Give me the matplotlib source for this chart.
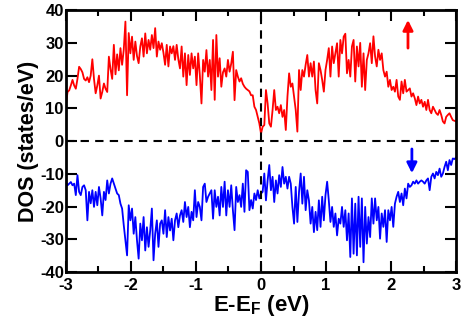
import numpy as np
import matplotlib
matplotlib.use("Agg")
import matplotlib.pyplot as plt
from matplotlib.ticker import MultipleLocator

plt.rcParams['font.family'] = ['Liberation Sans', 'DejaVu Sans']
plt.rcParams['font.weight'] = 'bold'
plt.rcParams['mathtext.fontset'] = 'custom'
plt.rcParams['mathtext.rm'] = 'Liberation Sans:bold'
plt.rcParams['mathtext.bf'] = 'Liberation Sans:bold'
plt.rcParams['mathtext.it'] = 'Liberation Sans:bold'

# spin-up DOS, E from -3 to 0
dos_up_left = [11, 15, 15.5, 17, 18.7, 17, 16, 19, 22.7, 22, 21, 19, 18.5, 19.5, 18, 20, 25, 19, 14.6,
               17, 20, 13, 15, 17.6, 16, 15, 25.8, 22, 19,
               29.4, 20.4, 26.5, 21.6, 28.4, 23.3, 27.9, 36.5, 14, 33,
               26.8, 31.9, 24.8, 30.4, 26, 23.8, 28.9, 31.4, 25.8, 32.9,
               26.8, 30.9, 27.9, 32.4, 28.4, 34.5, 25.8, 30.4, 27.9, 29.9,
               27, 23.3, 29.4, 22.8, 28.9, 26.8, 29, 24.8, 29.4, 25,
               22.2, 28.9, 19.7, 26.8, 17.1, 26.3, 20.2, 26.8, 22.2, 25.8,
               17.1, 26.8, 20.2, 11.5, 24.8, 21.2, 27.8, 19.7, 24.8, 15.6,
               30.9, 12.6, 32.4, 19.7, 25.3, 16.6, 21, 22.2, 19.7, 24.8,
               21.2, 23.7, 27.3, 12.5, 21.7, 19.7, 18.2, 19.2, 17.5, 16.6,
               16, 15.6, 15.2, 14, 14, 10.5, 9.5, 7.4, 5.4, 2.3]
# spin-up DOS, E from 0 to 3
dos_up_right = [4.4, 4.9, 15.6, 11.5, 5.4, 4.4, 9.5, 15.6, 9.5, 10.5,
                8.5, 11, 7.4, 9.5, 3.4, 13.6, 20.7, 16.6, 17.6, 13.6,
                9.5, 2.9, 21.7, 15.6, 21.7, 19.7, 23.3, 26.3, 19.7, 23.8,
                19.7, 24.3, 15.6, 11.5, 23.8, 21.7, 18.7, 15.1, 21.7, 24.8,
                28.4, 19.7, 28.9, 23.8, 26.8, 29.9, 19.7, 30.9, 26.8, 31.9,
                32.8, 20.7, 24.8, 19.7, 28.9, 30.9, 18.2, 28.9, 22.8, 30,
                16.6, 26.8, 15.6, 24.8, 26.8, 29.9, 23.8, 32, 25.8, 22.8,
                27.9, 24.8, 26.8, 21.7, 19.7, 21.2, 16.6, 18.7, 15.6, 16.6,
                15.1, 18.7, 13.6, 12.6, 18.2, 14.6, 18.7, 15.1, 15.6, 16.1,
                13.6, 14.6, 13.1, 11, 13.6, 11.5, 12.6, 10.5, 12, 9.5,
                12.6, 9.5, 8.5, 10.5, 9.5, 8.5, 8, 9.5, 8, 6,
                5.4, 7.4, 8, 8.5, 7.4, 6.4, 6.2, 6]
# spin-down DOS, E from -3 to 0
dos_dn_left = [-12.4, -13.5, -13, -12.5, -13.5, -13, -16.5, -10.4, -15.5, -16.5, -14, -13.5, -15, -24.2,
               -15.5, -19, -15, -20.1, -15.5,
               -19.6, -14, -17.5, -22.7, -15.5, -18, -12, -16, -13, -11.4,
               -13, -14.5, -16, -16.5, -19.1, -20.6, -25.7, -30.3, -34.9, -19.6,
               -24.2, -20.6, -28.3, -23.2, -30.3, -35.9, -25.2, -30.3, -23.2, -33.4,
               -26.3, -32.3, -27.3, -20.6, -36.4, -28.3, -24.2, -32.3, -25.2, -24.2,
               -28.3, -21.1, -29.3, -23.2, -27.3, -23.7, -30.3, -24.2, -22.1, -26.3,
               -22.7, -21.1, -24.7, -18.6, -23.2, -20.1, -26.3, -21.6, -24.2, -15,
               -23.2, -18.6, -20.1, -24.2, -14, -13, -18.6, -17, -16, -15,
               -23.7, -15, -20.1, -17, -22.7, -14, -20.1, -12.4, -22.7, -15,
               -20.1, -13.5, -21.1, -27.2, -14, -18.6, -16.5, -20.1, -13, -21.6,
               -8.9, -9.4, -21.1, -18, -20.6, -16, -18, -15, -17.5, -16]
# spin-down DOS, E from 0 to 3
dos_dn_right = [-15.5, -9.9, -18.1, -12, -7.3, -15, -10.9, -18.6, -12, -16,
                -10.4, -14, -7.9, -13, -10.9, -14.5, -10.9, -13, -20.1, -25.2,
                -14, -24.7, -15.5, -9.9, -19.1, -10.9, -21.1, -15, -18.1, -25.2,
                -20.1, -27.8, -21.6, -27.2, -18.1, -26.2, -17, -24.2, -16.5, -12.4,
                -18.1, -24.7, -20.1, -26.2, -22.1, -28.8, -23.7, -25.2, -20.1, -26.2,
                -21.1, -30.3, -22.1, -35.4, -17.5, -34.4, -19.1, -34.9, -17, -32.3,
                -17.5, -37, -20.1, -31.3, -23.2, -29.3, -17.5, -25.2, -17.5, -24.2,
                -20.1, -29.8, -22.1, -26.2, -21.1, -30.8, -21.1, -24.2, -20.1, -26.2,
                -19.1, -17, -15.5, -18.6, -16, -19.6, -14.5, -17.5, -13, -14,
                -13.5, -12.4, -13, -12, -13, -12.4, -12, -12.4, -13, -12,
                -11.4, -15, -10.9, -9.9, -11.4, -9.4, -10.4, -8.4, -10.9, -9.9,
                -7.9, -6.3, -8.9, -5.8, -7.3, -5.3, -5.5, -5]

e_min, e_max = -3.0, 3.0
x_ticks = [-3, -2, -1, 0, 1, 2, 3]
y_ticks = [-40, -30, -20, -10, 0, 10, 20, 30, 40]
arrow_up = (2.26, 28.4, 37.0)    # x, tail, head
arrow_dn = (2.32, -2.4, -9.8)

dos_up = np.array(dos_up_left + dos_up_right)
dos_dn = np.array(dos_dn_left + dos_dn_right)
energy = np.linspace(e_min, e_max, len(dos_up))

fig = plt.figure(figsize=(4.64, 3.27), dpi=100)
ax = fig.add_axes([0.142, 0.168, 0.841, 0.801])

ax.plot(energy, dos_up, color='#ff0000', lw=1.3)
ax.plot(energy, dos_dn, color='#0000ff', lw=1.3)
ax.axhline(0, color='black', lw=1.5, ls=(0, (4, 3)))
ax.axvline(0, color='black', lw=1.5, ls=(0, (4, 3)))

ax.annotate('', xy=(arrow_up[0], arrow_up[2]), xytext=(arrow_up[0], arrow_up[1]),
            arrowprops=dict(arrowstyle='-|>,head_length=0.6,head_width=0.3', color='#ff0000', lw=2.0,
                            shrinkA=0, shrinkB=0))
ax.annotate('', xy=(arrow_dn[0], arrow_dn[2]), xytext=(arrow_dn[0], arrow_dn[1]),
            arrowprops=dict(arrowstyle='-|>,head_length=0.6,head_width=0.3', color='#0000ff', lw=2.0,
                            shrinkA=0, shrinkB=0))

ax.set_xlim(e_min, e_max)
ax.set_ylim(-40, 40)
ax.set_xticks(x_ticks)
ax.set_xticklabels([str(t) for t in x_ticks])
ax.set_yticks(y_ticks)
ax.set_yticklabels([str(t) for t in y_ticks])
ax.xaxis.set_minor_locator(MultipleLocator(0.5))
ax.tick_params(which='both', direction='in', top=True, right=True, width=1.5, labelsize=12)
ax.tick_params(axis='y', pad=1.5)
ax.tick_params(axis='x', pad=4)
ax.tick_params(which='major', length=8)
ax.tick_params(which='minor', length=4)
for s in ax.spines.values():
    s.set_linewidth(2)

ax.set_xlabel(r'E-E$_{\mathrm{F}}$ (eV)', fontsize=16, fontweight='bold', labelpad=0)
ax.set_ylabel('DOS (states/eV)', fontsize=15.5, fontweight='bold', labelpad=1)

fig.savefig('out.png', dpi=100)
